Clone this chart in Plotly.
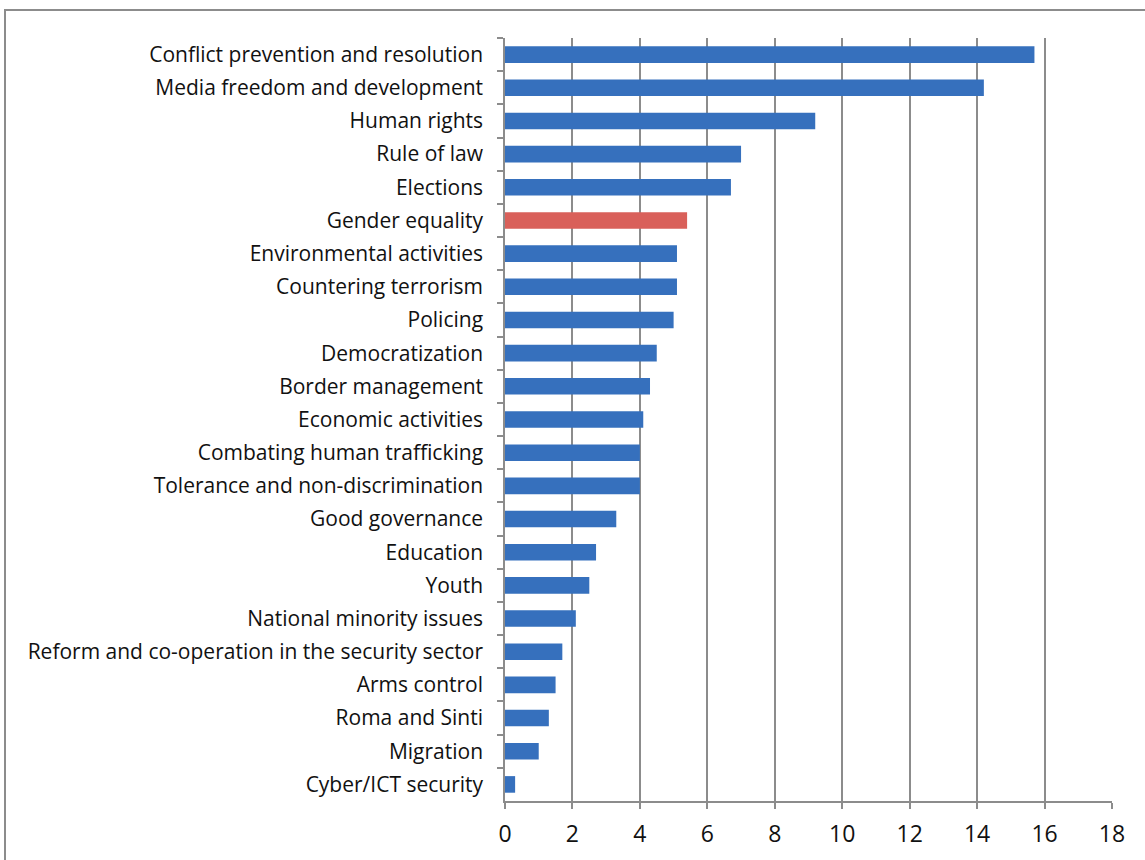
import plotly.graph_objects as go

categories = [
    "Conflict prevention and resolution",
    "Media freedom and development",
    "Human rights",
    "Rule of law",
    "Elections",
    "Gender equality",
    "Environmental activities",
    "Countering terrorism",
    "Policing",
    "Democratization",
    "Border management",
    "Economic activities",
    "Combating human trafficking",
    "Tolerance and non-discrimination",
    "Good governance",
    "Education",
    "Youth",
    "National minority issues",
    "Reform and co-operation in the security sector",
    "Arms control",
    "Roma and Sinti",
    "Migration",
    "Cyber/ICT security",
]
values = [15.7, 14.2, 9.2, 7.0, 6.7, 5.4, 5.1, 5.1, 5.0, 4.5, 4.3, 4.1, 4.0, 4.0,
          3.3, 2.7, 2.5, 2.1, 1.7, 1.5, 1.3, 1.0, 0.3]
highlight = "Gender equality"
x_ticks = [0, 2, 4, 6, 8, 10, 12, 14, 16, 18]

BLUE = "#3670bd"
RED = "#d9605a"
colors = [RED if c == highlight else BLUE for c in categories]

fig = go.Figure()
fig.add_trace(go.Bar(
    x=values, y=categories, orientation="h",
    marker=dict(color=colors, line=dict(width=0)),
    width=0.5,
    hoverinfo="x+y",
))

font_family = "'Open Sans', sans-serif"
fig.update_layout(
    width=1145, height=860,
    margin=dict(l=505, r=33, t=38, b=59),
    paper_bgcolor="white", plot_bgcolor="white",
    showlegend=False,
    font=dict(family=font_family, size=21, color="#111111"),
    xaxis=dict(
        range=[0, 18], tickvals=x_ticks, ticktext=[str(t) for t in x_ticks],
        showgrid=True, gridcolor="#8c8c8c", gridwidth=1.5,
        showline=True, linecolor="#8c8c8c", linewidth=1.5,
        ticks="outside", ticklen=6, tickcolor="#8c8c8c", tickwidth=1.5,
        tickfont=dict(size=23), ticklabelstandoff=6,
        zeroline=False, fixedrange=True,
    ),
    yaxis=dict(
        categoryorder="array", categoryarray=categories,
        autorange="reversed",
        showgrid=False,
        showline=True, linecolor="#8c8c8c", linewidth=1.5,
        ticks="outside", ticklen=6, tickcolor="#8c8c8c", tickwidth=1.5,
        tickson="boundaries", ticklabelstandoff=16,
        tickfont=dict(size=21),
        fixedrange=True,
    ),
    shapes=[dict(
        type="rect", xref="paper", yref="paper",
        x0=-500/607, x1=1.2, y0=-0.2, y1=1 + 28/763,
        line=dict(color="#8c8c8c", width=2), fillcolor="rgba(0,0,0,0)",
        layer="below",
    )],
)

fig.write_html("out.html")
